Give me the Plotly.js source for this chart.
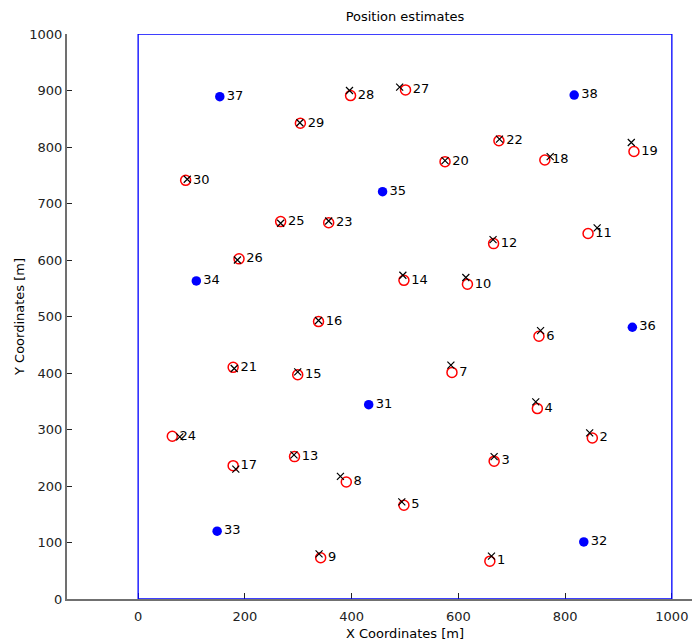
<!DOCTYPE html>
<html>
<head>
<meta charset="utf-8">
<script src="https://cdn.plot.ly/plotly-3.0.1.min.js"></script>
<style>
html, body { margin: 0; padding: 0; overflow: hidden; background: #fff; }
#chart { width: 760px; height: 644px; }
</style>
</head>
<body>
<div id="chart"></div>
<script>
// Node ids 1..30 (unknown nodes)
const nodeIds = [1,2,3,4,5,6,7,8,9,10,11,12,13,14,15,16,17,18,19,20,21,22,23,24,25,26,27,28,29,30];
// Estimated positions (red circles)
const estX = [659,851,667,748,498,751,588,390,342,617,843,666,293,498,299,338,178,762,929,575,178,676,357,64,267,189,501,398,304,89];
const estY = [67,285,244,337,166,465,401,207,73,557,647,629,252,564,397,491,236,777,792,774,410,811,666,288,668,602,901,891,842,741];
// True positions (black x)
const trueX = [662,846,667,745,494,754,586,379,339,614,860,665,292,496,299,338,183,772,924,575,180,677,357,78,267,186,490,396,303,92];
const trueY = [76,294,252,349,172,475,414,217,80,569,657,636,255,573,402,493,230,783,808,776,408,814,669,287,665,600,906,900,843,743];
// Anchor nodes (blue)
const anchorIds = [31,32,33,34,35,36,37,38];
const anchorX = [432,835,148,109,458,926,153,817];
const anchorY = [344,101,120,563,721,481,889,892];
// Deployment area boundary
const areaX = [0,1000,1000,0,0];
const areaY = [0,0,1000,1000,0];
// Tick values
const xTicks = [0,200,400,600,800,1000];
const yTicks = [0,100,200,300,400,500,600,700,800,900,1000];

const FONT = 'DejaVu Sans, Liberation Sans, sans-serif';

const traces = [
  {
    x: areaX, y: areaY, type: 'scatter', mode: 'lines',
    line: {color: '#0000ff', width: 1.3}, hoverinfo: 'skip'
  },
  {
    x: estX, y: estY, type: 'scatter', mode: 'markers+text',
    text: nodeIds.map(String), textposition: 'middle right',
    textfont: {family: FONT, size: 13, color: '#000'},
    marker: {symbol: 'circle-open', size: 10, color: '#ff0000', line: {width: 1.5, color: '#ff0000'}}
  },
  {
    x: trueX, y: trueY, type: 'scatter', mode: 'markers',
    marker: {symbol: 'x-thin-open', size: 7, color: '#000', line: {width: 1.2, color: '#000'}}
  },
  {
    x: anchorX, y: anchorY, type: 'scatter', mode: 'markers+text',
    text: anchorIds.map(String), textposition: 'middle right',
    textfont: {family: FONT, size: 13, color: '#000'},
    marker: {symbol: 'circle', size: 9.5, color: '#0000ff', line: {width: 0}}
  }
];

const axisCommon = {
  showgrid: false, zeroline: false, showline: true,
  linecolor: '#707070', linewidth: 2, layer: 'below traces',
  tickfont: {family: FONT, size: 13, color: '#222'},
  tickcolor: '#222', tickmode: 'array'
};

const layout = {
  width: 760, height: 644,
  margin: {l: 67, r: 17, t: 34, b: 45, pad: 0},
  paper_bgcolor: '#fff', plot_bgcolor: '#fff',
  showlegend: false,
  title: {
    text: 'Position estimates',
    font: {family: FONT, size: 13, color: '#000'},
    x: 0.5, xref: 'paper', y: 1 - 16/644, yref: 'container', yanchor: 'middle'
  },
  xaxis: Object.assign({}, axisCommon, {
    range: [-133.3, 1133.3], tickvals: xTicks, ticktext: xTicks.map(String),
    ticks: 'inside', ticklen: 6, ticklabelstandoff: 4,
    title: {text: 'X Coordinates [m]', font: {family: FONT, size: 13, color: '#000'}, standoff: 6}
  }),
  yaxis: Object.assign({}, axisCommon, {
    range: [0, 1000], tickvals: yTicks, ticktext: yTicks.map(String),
    ticks: 'inside', ticklen: 5,
    title: {text: 'Y Coordinates [m]', font: {family: FONT, size: 13, color: '#000'}, standoff: 2}
  })
};

Plotly.newPlot('chart', traces, layout, {displayModeBar: false, staticPlot: true});
</script>
</body>
</html>
